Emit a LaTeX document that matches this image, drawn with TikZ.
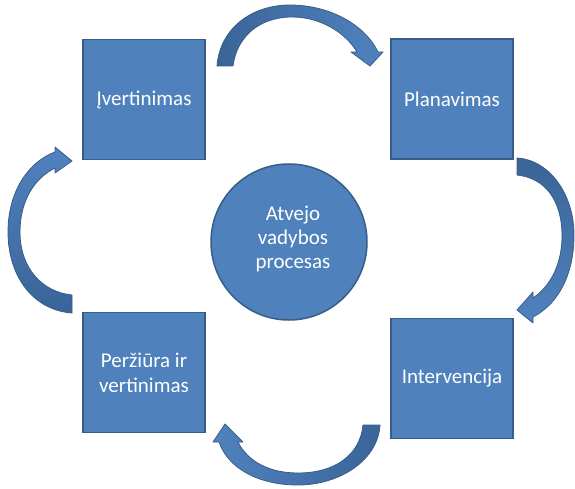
\documentclass[tikz,border=0pt]{standalone}
\usepackage{fontspec}
\setmainfont{Carlito}
\definecolor{boxfill}{RGB}{79,129,189}
\definecolor{boxline}{RGB}{56,93,138}
\definecolor{arrdark}{RGB}{58,100,152}
\definecolor{arrlight}{RGB}{80,130,190}
\tikzset{
  stagebox/.style={draw=boxline, fill=boxfill, line width=1.5pt, minimum width=122pt, minimum height=120pt, inner sep=0pt, text=white, align=center, font=\fontsize{21}{25}\selectfont},
  hubcircle/.style={circle, draw=boxline, fill=boxfill, line width=1.5pt, minimum size=156pt, inner sep=0pt, text=white, align=center, font=\fontsize{21}{25}\selectfont},
  curvearrow/.style={draw=boxline, line width=0.8pt, line join=round}
}
\begin{document}
\begin{tikzpicture}[x=1pt,y=-1pt]
\useasboundingbox (0,0) rectangle (575,489);
\node[stagebox] (b1) at (144,99.5) {Įvertinimas};
\node[stagebox] (b2) at (452,99) {Planavimas};
\node[stagebox] (b3) at (144,372.5) {Peržiūra ir\\vertinimas};
\node[stagebox] (b4) at (452,378.5) {Intervencija};
\node[hubcircle] (c) at (289,242) {};
\node[text=white, align=center, font=\fontsize{21}{24}\selectfont] (ct) at (293,239) {Atvejo\\vadybos\\procesas};
% top arrow
\path[curvearrow, left color=arrdark, right color=arrlight]
  (217,66) .. controls (220,28) and (252,5) .. (290,5)
  .. controls (330,5) and (365,25) .. (378,52)
  -- (383,52) -- (370,66) -- (351,52) -- (357,52)
  .. controls (345,32) and (320,17) .. (292,17)
  .. controls (260,17) and (237,36) .. (233,66) -- cycle;
% right arrow
\path[curvearrow, top color=arrdark, bottom color=arrlight]
  (517,158) .. controls (550,160) and (574,195) .. (574,235)
  .. controls (574,272) and (560,303) .. (533,317)
  -- (533,323) -- (517,310) -- (533,292) -- (533,298)
  .. controls (552,285) and (562,262) .. (562,236)
  .. controls (562,200) and (545,178) .. (517,175) -- cycle;
% bottom arrow
\path[curvearrow, left color=arrlight, right color=arrdark]
  (380,425) .. controls (378,460) and (340,485) .. (298,485)
  .. controls (258,485) and (228,468) .. (219,442)
  -- (213,442) -- (225,424) -- (243,442) -- (238,442)
  .. controls (248,462) and (270,473) .. (298,473)
  .. controls (335,473) and (360,455) .. (363,425) -- cycle;
% left arrow
\path[curvearrow, top color=arrlight, bottom color=arrdark]
  (72,313) .. controls (32,310) and (8,275) .. (8,232)
  .. controls (8,192) and (28,162) .. (55,152)
  -- (55,147) -- (72,161) -- (55,173) -- (55,168)
  .. controls (35,178) and (20,200) .. (20,232)
  .. controls (20,268) and (42,292) .. (72,295) -- cycle;
\end{tikzpicture}
\end{document}
